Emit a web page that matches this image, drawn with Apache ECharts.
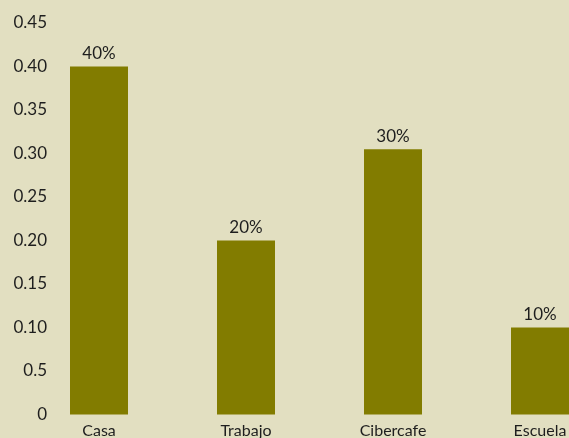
<!DOCTYPE html>
<html>
<head>
    <meta charset="utf-8">
    <script src="https://cdn.jsdelivr.net/npm/echarts@6/dist/echarts.min.js"></script>
    <style>
        html, body { margin: 0; padding: 0; background: #e2dfc1; }
    </style>
</head>
<body>
    <div id="main" style="width:569px; height:438px;"></div>
<script type="text/javascript">
    // data
    const categories = ['Casa', 'Trabajo', 'Cibercafe', 'Escuela'];
    const values = [0.40, 0.20, 0.305, 0.10];
    const barLabels = ['40%', '20%', '30%', '10%'];
    const yTickLabels = ['0', '0.5', '0.10', '0.15', '0.20', '0.25', '0.30', '0.35', '0.40', '0.45'];

    const myChart = echarts.init(document.getElementById('main'));

    const option = {
        backgroundColor: '#e2dfc1',
        animation: false,
        grid: {
            left: 25.5,
            right: -44.5,
            top: 23,
            bottom: 23.5,
            containLabel: false,
            outerBoundsMode: 'none'
        },
        xAxis: {
            type: 'category',
            data: categories,
            axisLine: { show: false },
            axisTick: { show: false },
            axisLabel: {
                color: '#1e1e1e',
                fontFamily: 'Lato',
                fontSize: 16,
                margin: 8
            }
        },
        yAxis: {
            type: 'value',
            min: 0,
            max: 0.45,
            interval: 0.05,
            splitLine: { show: false },
            axisLine: { show: false },
            axisTick: { show: false },
            axisLabel: {
                color: '#1e1e1e',
                fontFamily: 'Lato',
                fontSize: 17,
                margin: -21.5,
                formatter: function (v) {
                    return yTickLabels[Math.round(v / 0.05)];
                }
            }
        },
        series: [{
            type: 'bar',
            data: values,
            barWidth: 58,
            itemStyle: { color: '#827c00' },
            label: {
                show: true,
                position: 'top',
                distance: 4,
                color: '#1e1e1e',
                fontFamily: 'Lato',
                fontSize: 17,
                formatter: function (p) {
                    return barLabels[p.dataIndex];
                }
            }
        }]
    };
    myChart.setOption(option);
</script>
</body>
</html>
